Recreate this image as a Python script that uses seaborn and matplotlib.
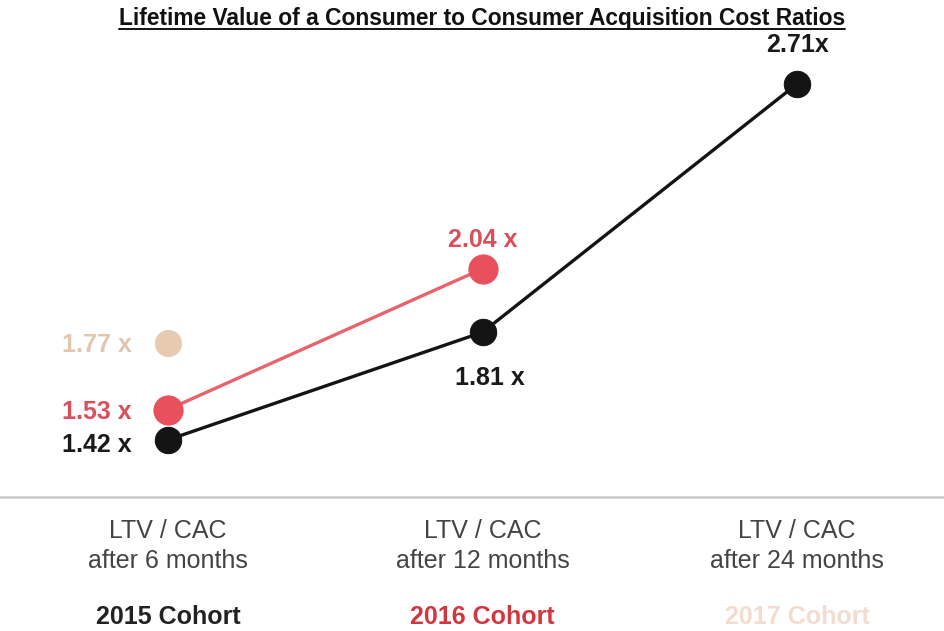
import matplotlib
matplotlib.use("Agg")
import matplotlib.pyplot as plt
import matplotlib.transforms as mtransforms
from matplotlib.lines import Line2D
import seaborn as sns
import pandas as pd

# ---- data ----
periods = ["LTV / CAC\nafter 6 months", "LTV / CAC\nafter 12 months", "LTV / CAC\nafter 24 months"]
cohorts = ["2015 Cohort", "2016 Cohort", "2017 Cohort"]
values_2015 = [1.42, 1.81, 2.71]
values_2016 = [1.53, 2.04]
values_2017 = [1.77]
labels_2015 = ["1.42 x", "1.81 x", "2.71x"]
labels_2016 = ["1.53 x", "2.04 x"]
labels_2017 = ["1.77 x"]

# ---- style ----
sns.set_theme(style="white")
plt.rcParams["font.family"] = ["Liberation Sans", "DejaVu Sans"]

c2015_line = "#141414"
c2016_mark = "#e8505b"
c2016_line = "#e8646d"
c2016_text = "#d9505a"
c2017_mark = "#e6cbb1"
c2017_text = "#e2c7af"
cohort_colors = ["#222222", "#d2363f", "#f2dccf"]

df15 = pd.DataFrame({"x": range(len(values_2015)), "y": values_2015})
df16 = pd.DataFrame({"x": range(len(values_2016)), "y": values_2016})
df17 = pd.DataFrame({"x": range(len(values_2017)), "y": values_2017})

fig = plt.figure(figsize=(9.44, 6.31), dpi=100)
ax = fig.add_axes([0.0, 0.2124, 1.0, 0.7163])

sns.lineplot(data=df16, x="x", y="y", ax=ax, color=c2016_line, linewidth=2.4,
             marker="o", markersize=21, markerfacecolor=c2016_mark,
             markeredgecolor=c2016_mark, zorder=2)
sns.lineplot(data=df15, x="x", y="y", ax=ax, color=c2015_line, linewidth=2.4,
             marker="o", markersize=19, markerfacecolor=c2015_line,
             markeredgecolor=c2015_line, zorder=3)
sns.scatterplot(data=df17, x="x", y="y", ax=ax, color=c2017_mark, s=19.5**2,
                edgecolor=c2017_mark, linewidth=0, zorder=2)

ax.set_xlim(-0.534, 2.467)
ax.set_ylim(1.213, 2.851)

# value labels
lab_font = dict(fontsize=18, fontweight="bold")
offs_2015 = [(-26, -3.5, "right"), (5, -33, "center"), (0, 28, "center")]
for i, (v, t) in enumerate(zip(values_2015, labels_2015)):
    dx, dy, ha = offs_2015[i]
    ax.annotate(t, (i, v), xytext=(dx, dy), textcoords="offset points",
                ha=ha, va="center", color="#1a1a1a", **lab_font)
offs_2016 = [(-26, -1.5, "right"), (0, 21, "center")]
for i, (v, t) in enumerate(zip(values_2016, labels_2016)):
    dx, dy, ha = offs_2016[i]
    ax.annotate(t, (i, v), xytext=(dx, dy), textcoords="offset points",
                ha=ha, va="center", color=c2016_text, **lab_font)
for i, (v, t) in enumerate(zip(values_2017, labels_2017)):
    ax.annotate(t, (i, v), xytext=(-26, -1.5), textcoords="offset points",
                ha="right", va="center", color=c2017_text, **lab_font)

# axes cosmetics
for s in ["top", "right", "left"]:
    ax.spines[s].set_visible(False)
ax.spines["bottom"].set_color("#c9c9c9")
ax.spines["bottom"].set_linewidth(1.8)
ax.set_yticks([])
ax.set_xticks(range(len(periods)))
ax.set_xticklabels(periods, fontsize=18, color="#444444", linespacing=1.3)
ax.tick_params(axis="x", length=0, pad=16)
ax.set_xlabel("")
ax.set_ylabel("")

# cohort labels
trans = mtransforms.blended_transform_factory(ax.transData, fig.transFigure)
for i, (c, col) in enumerate(zip(cohorts, cohort_colors)):
    ax.text(i, 0.022, c, transform=trans, ha="center", va="center",
            fontsize=18, fontweight="bold", color=col)

# title with underline
title = fig.text(0.511, 0.971, "Lifetime Value of a Consumer to Consumer Acquisition Cost Ratios",
                 ha="center", va="center", fontsize=16.4, fontweight="bold", color="#111111")
fig.canvas.draw()
bb = title.get_window_extent(renderer=fig.canvas.get_renderer())
bbf = bb.transformed(fig.transFigure.inverted())
uy = bbf.y0 + 0.001
fig.add_artist(Line2D([bbf.x0, bbf.x1], [uy, uy], transform=fig.transFigure,
                      color="#111111", linewidth=1.4))

fig.savefig("out.png", dpi=100)
